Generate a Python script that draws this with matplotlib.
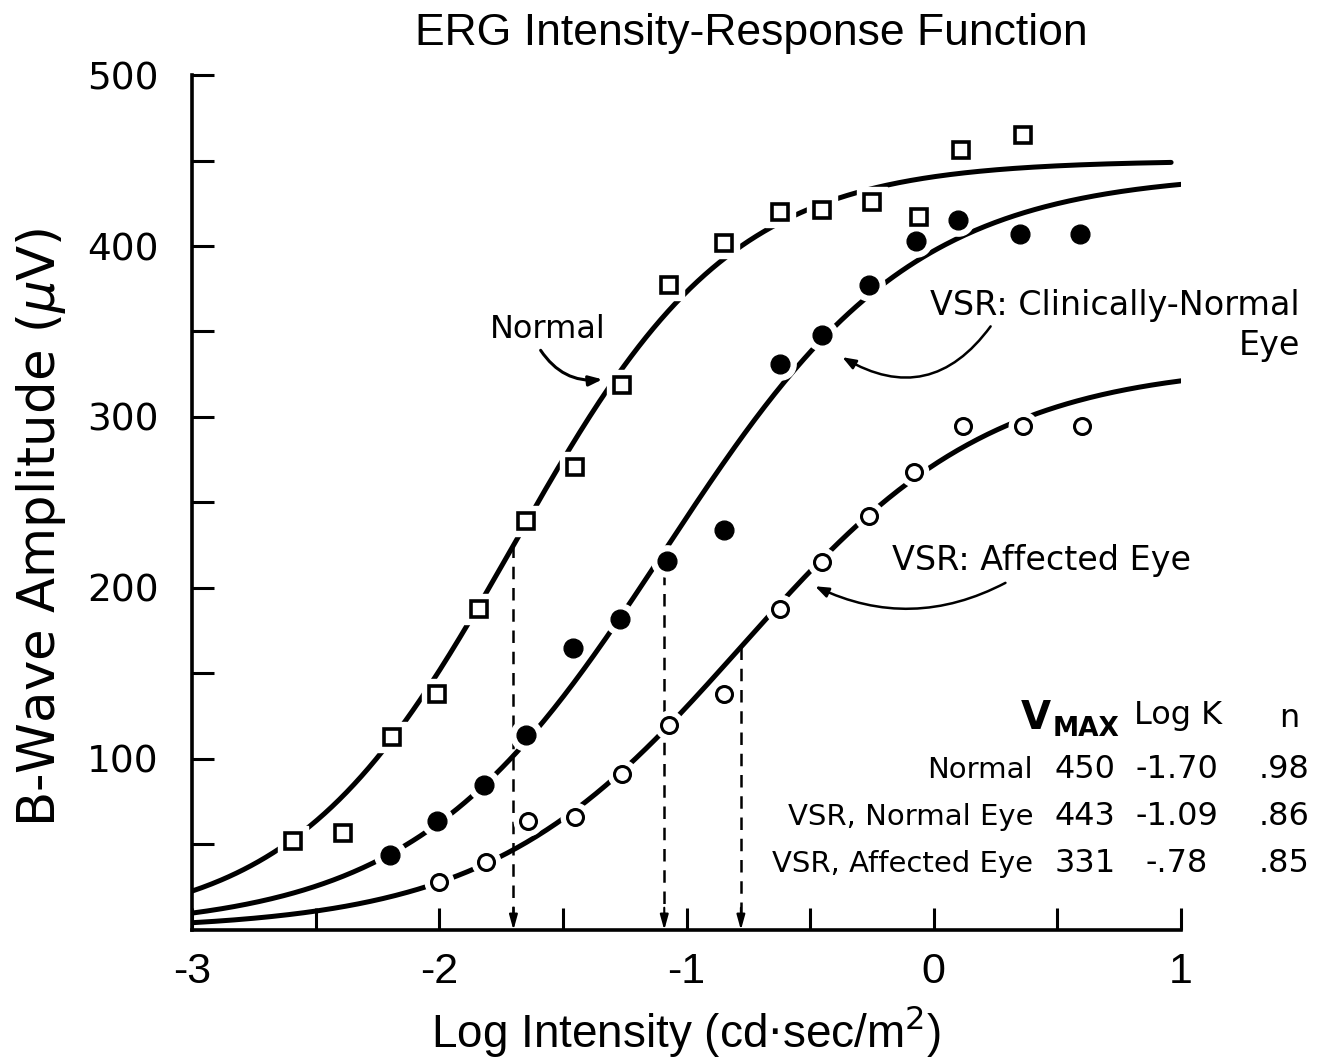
import numpy as np
import matplotlib.pyplot as plt

plt.rcParams['axes.unicode_minus'] = False

narrow = 'Liberation Sans'
plain = 'DejaVu Sans'

# fitted Naka-Rushton parameters for each eye
groups = ['Normal', 'VSR, Normal Eye', 'VSR, Affected Eye']
vmax = [450, 443, 331]
log_k = [-1.70, -1.09, -0.78]
n_exp = [0.98, 0.86, 0.85]
vmax_labels = ['450', '443', '331']
log_k_labels = ['-1.70', '-1.09', '-.78']
n_labels = ['.98', '.86', '.85']

# measured b-wave amplitudes (uV) vs log intensity
normal_x = [-2.59, -2.39, -2.19, -2.01, -1.84, -1.65, -1.45, -1.26, -1.07,
            -0.85, -0.62, -0.45, -0.25, -0.06, 0.11, 0.36]
normal_y = [52, 57, 113, 138, 188, 239, 271, 319, 377,
            402, 420, 421, 426, 417, 456, 465]

vsr_normal_x = [-2.20, -2.01, -1.82, -1.65, -1.46, -1.27, -1.08, -0.85,
                -0.62, -0.45, -0.26, -0.07, 0.10, 0.35, 0.59]
vsr_normal_y = [44, 64, 85, 114, 165, 182, 216, 234,
                331, 348, 377, 403, 415, 407, 407]

vsr_affected_x = [-2.00, -1.81, -1.64, -1.45, -1.26, -1.07, -0.85, -0.62,
                  -0.45, -0.26, -0.08, 0.12, 0.36, 0.60]
vsr_affected_y = [28, 40, 64, 66, 91, 120, 138, 188,
                  215, 242, 268, 295, 295, 295]


def naka_rushton(x, vm, lk, n):
    return vm / (1.0 + 10 ** (n * (lk - x)))


fig = plt.figure(figsize=(13.28, 10.61), dpi=100)
ax = fig.add_axes([0.1446, 0.1235, 0.7447, 0.8058])

# fitted curves
x_ends = [0.96, 1.0, 1.0]
for vm, lk, n, xe in zip(vmax, log_k, n_exp, x_ends):
    xs = np.linspace(-3, xe, 400)
    ax.plot(xs, naka_rushton(xs, vm, lk, n), color='k', lw=3.6,
            solid_capstyle='round', zorder=2)

# dashed drop lines at log K
for vm, lk in zip(vmax, log_k):
    ax.plot([lk, lk], [vm / 2.0, 10], color='k', lw=1.8,
            ls=(0, (5, 3.5)), zorder=1)
    ax.annotate('', xy=(lk, 0), xytext=(lk, 13),
                arrowprops=dict(arrowstyle='-|>,head_length=0.9,head_width=0.25',
                                color='k', lw=1.5, shrinkA=0, shrinkB=0))

# data points, each with a white ring that breaks the curve
series = [
    (normal_x, normal_y, 's', 12, 'white', 2.6),
    (vsr_normal_x, vsr_normal_y, 'o', 13.5, 'black', 1.0),
    (vsr_affected_x, vsr_affected_y, 'o', 11.5, 'white', 2.2),
]
for xs, ys, m, ms, fc, ew in series:
    ax.plot(xs, ys, ls='none', marker=m, ms=ms + 9, mfc='white',
            mec='white', zorder=3)
    ax.plot(xs, ys, ls='none', marker=m, ms=ms, mfc=fc, mec='black',
            mew=ew, zorder=4)

ax.set_xlim(-3, 1)
ax.set_ylim(0, 500)
ax.set_xticks([-3, -2, -1, 0, 1])
ax.set_xticks(np.arange(-2.5, 1, 1.0), minor=True)
ax.set_yticks([100, 200, 300, 400, 500])
ax.set_yticks([50, 150, 250, 350, 450], minor=True)
ax.set_xticklabels(['-3', '-2', '-1', '0', '1'], family=narrow, fontsize=31)
ax.set_yticklabels(['100', '200', '300', '400', '500'], family=plain,
                   fontsize=27)
ax.tick_params(which='both', direction='in', length=16, width=2.2,
               color='k')
ax.tick_params(axis='x', which='major', pad=16)
ax.tick_params(axis='y', which='major', pad=24)
for side in ['top', 'right']:
    ax.spines[side].set_visible(False)
for side in ['left', 'bottom']:
    ax.spines[side].set_linewidth(2.6)

ax.set_xlabel('Log Intensity (cd$\\cdot$sec/m$^2$)', family=narrow,
              fontsize=33)
ax.xaxis.set_label_coords(0.5, -0.086)
ax.set_ylabel('B-Wave Amplitude ($\\mu$V)', family=plain, fontsize=37)
ax.yaxis.set_label_coords(-0.125, 0.471)
fig.text(0.566, 0.968, 'ERG Intensity-Response Function', family=narrow,
         fontsize=32, ha='center', va='center')

# curve labels with curved pointers
lab = dict(family=plain, fontsize=24, clip_on=False)
ax.text(-1.56, 351, 'Normal', ha='center', va='center',
        family=plain, fontsize=23)
ax.annotate('', xy=(-1.34, 322), xytext=(-1.59, 339),
            arrowprops=dict(arrowstyle='-|>,head_length=0.8,head_width=0.3',
                            color='k', lw=2.2, shrinkA=0, shrinkB=0,
                            connectionstyle='arc3,rad=0.3'))

ax.text(1.48, 365, 'VSR: Clinically-Normal', ha='right', va='center', **lab)
ax.text(1.48, 342, 'Eye', ha='right', va='center', **lab)
ax.annotate('', xy=(-0.37, 335), xytext=(0.23, 353),
            arrowprops=dict(arrowstyle='-|>,head_length=0.8,head_width=0.3',
                            color='k', lw=1.8, shrinkA=0, shrinkB=0,
                            connectionstyle='arc3,rad=-0.45'))

ax.text(-0.17, 216, 'VSR: Affected Eye', ha='left', va='center', **lab)
ax.annotate('', xy=(-0.48, 201), xytext=(0.29, 203),
            arrowprops=dict(arrowstyle='-|>,head_length=0.8,head_width=0.3',
                            color='k', lw=1.8, shrinkA=0, shrinkB=0,
                            connectionstyle='arc3,rad=-0.25'))

# parameter table
fig.text(0.780, 0.323, 'V', family=plain, fontsize=28, weight='bold',
         ha='center', va='center')
fig.text(0.818, 0.313, 'MAX', family=plain, fontsize=19, weight='bold',
         ha='center', va='center')
fig.text(0.887, 0.326, 'Log K', family=plain, fontsize=23, ha='center',
         va='center')
fig.text(0.971, 0.323, 'n', family=plain, fontsize=23, ha='center',
         va='center')
row_y = [0.2743, 0.2300, 0.1857]
for g, v, k, n, yy in zip(groups, vmax_labels, log_k_labels, n_labels, row_y):
    fig.text(0.778, yy, g, family=plain, fontsize=21, ha='right', va='center')
    fig.text(0.817, yy, v, family=plain, fontsize=23, ha='center', va='center')
    fig.text(0.886, yy, k, family=plain, fontsize=23, ha='center', va='center')
    fig.text(0.986, yy, n, family=plain, fontsize=23, ha='right', va='center')

fig.savefig('out.png', dpi=100)
